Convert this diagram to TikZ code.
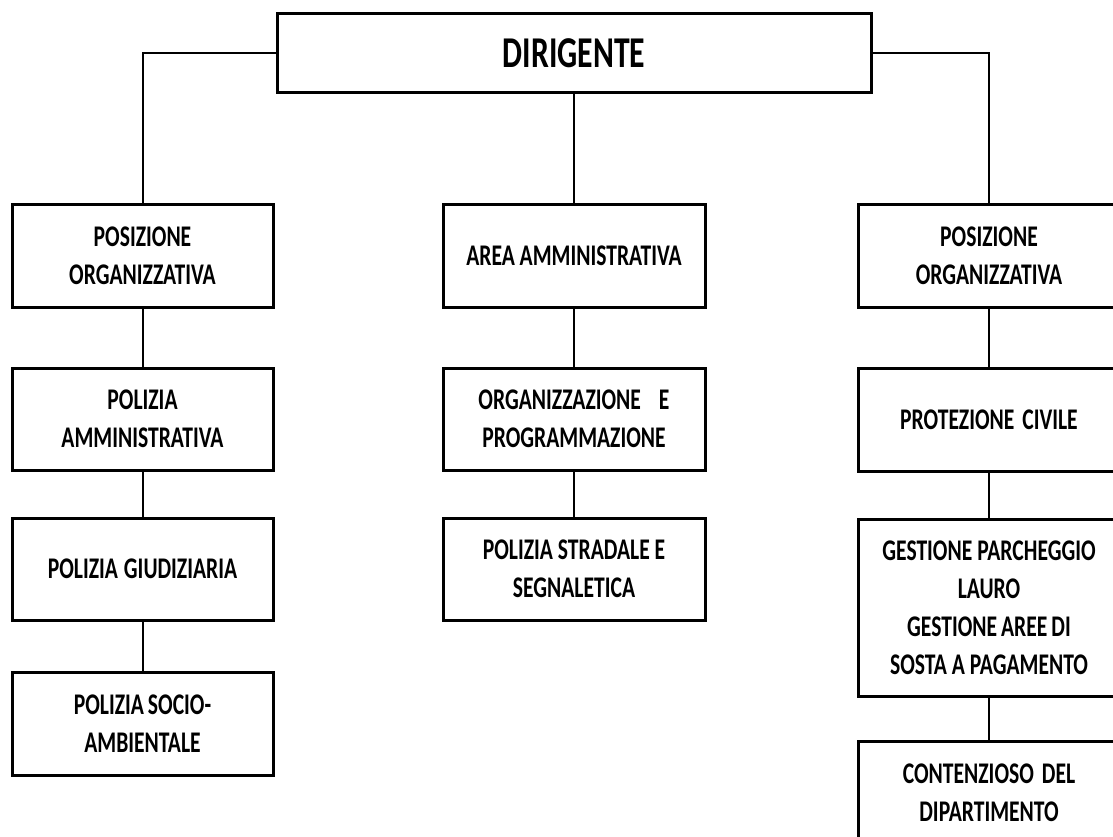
\documentclass[tikz,border=0pt]{standalone}
\usepackage{fontspec}
\setmainfont[FakeStretch=0.72]{Carlito}
\begin{document}
\begin{tikzpicture}[x=1pt,y=-1pt,
  orgbox/.style={draw=black, line width=3pt, fill=white, inner sep=0pt,
    align=center, font=\bfseries\fontsize{30}{38}\selectfont},
  link/.style={draw=black, line width=2pt}]
\useasboundingbox (0,0) rectangle (1113,837);
\clip (0,0) rectangle (1113,837);
% top
\node[orgbox, minimum width=594, minimum height=79, font=\bfseries\fontsize{44}{50}\selectfont] (dir) at (574,53) {DIRIGENTE};
% left column
\node[orgbox, minimum width=261, minimum height=102] (po1) at (142.5,256) {POSIZIONE\\ORGANIZZATIVA};
\node[orgbox, minimum width=261, minimum height=102] (pa) at (142.5,419) {POLIZIA\\AMMINISTRATIVA};
\node[orgbox, minimum width=261, minimum height=102] (pg) at (142.5,569) {POLIZIA\hspace{6pt}GIUDIZIARIA};
\node[orgbox, minimum width=261, minimum height=103] (psa) at (142.5,723.5) {POLIZIA\hspace{4pt}SOCIO-\\AMBIENTALE};
% middle column
\node[orgbox, minimum width=262, minimum height=102] (aa) at (574,256) {AREA AMMINISTRATIVA};
\node[orgbox, minimum width=262, minimum height=102] (op) at (574,419) {ORGANIZZAZIONE\hspace{18pt}E\\PROGRAMMAZIONE};
\node[orgbox, minimum width=262, minimum height=102] (ps) at (574,569) {POLIZIA\hspace{5pt}STRADALE E\\SEGNALETICA};
% right column
\node[orgbox, minimum width=262, minimum height=102] (po2) at (989,256) {POSIZIONE\\ORGANIZZATIVA};
\node[orgbox, minimum width=262, minimum height=103] (pc) at (989,419.5) {PROTEZIONE\hspace{8pt}CIVILE};
\node[orgbox, minimum width=262, minimum height=177] (gp) at (989,607.5) {GESTIONE\hspace{5pt}PARCHEGGIO\\LAURO\\GESTIONE\hspace{4pt}AREE\hspace{4pt}DI\\SOSTA\hspace{5pt}A PAGAMENTO};
\node[orgbox, minimum width=262, minimum height=104] (cd) at (989,793) {CONTENZIOSO\hspace{8pt}DEL\\DIPARTIMENTO};
% connectors
\draw[link] (dir.west) -| (po1.north);
\draw[link] (dir.south) -- (aa.north);
\draw[link] (dir.east) -| (po2.north);
\draw[link] (po1.south) -- (pa.north);
\draw[link] (pa.south) -- (pg.north);
\draw[link] (pg.south) -- (psa.north);
\draw[link] (aa.south) -- (op.north);
\draw[link] (op.south) -- (ps.north);
\draw[link] (po2.south) -- (pc.north);
\draw[link] (pc.south) -- (gp.north);
\draw[link] (gp.south) -- (cd.north);
\end{tikzpicture}
\end{document}
